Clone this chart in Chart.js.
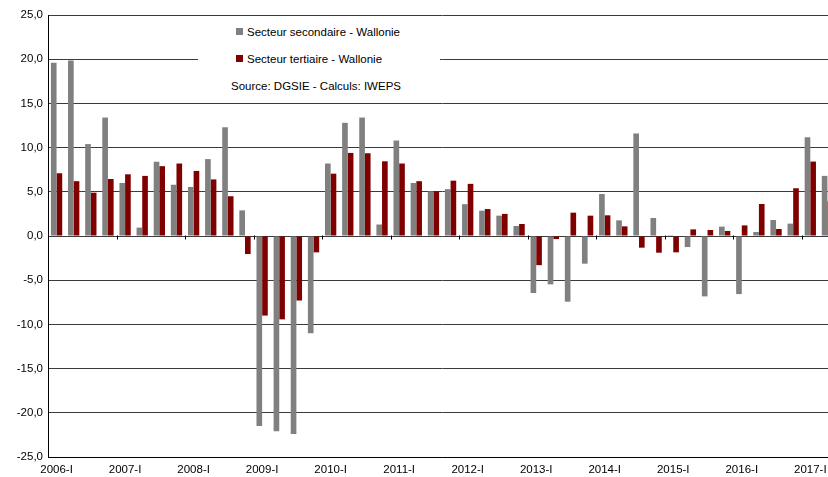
<!DOCTYPE html>
<html>
<head>
<meta charset="utf-8">
<script src="https://cdn.jsdelivr.net/npm/chart.js@4"></script>
<style>
  html, body { margin: 0; padding: 0; background: #fff; overflow: hidden; }
  #wrap { position: absolute; left: 0; top: 0; width: 836px; height: 477px; }
  #legende { position: absolute; left: 198px; top: 21px; width: 242px; height: 77px; background: #fff;
    font-family: "Liberation Sans", Arial, sans-serif; font-size: 11.5px; color: #000; }
  .item { position: absolute; left: 38px; height: 14px; line-height: 14px; white-space: nowrap; }
  .item i { display: inline-block; width: 7px; height: 7px; margin-right: 4px; vertical-align: 1px; }
  .source { position: absolute; left: 33px; top: 58px; white-space: nowrap; line-height: 14px; }
</style>
</head>
<body>
<div id="wrap"><canvas id="chart"></canvas></div>
<div id="legende"></div>
<script>
const annees = [2006, 2007, 2008, 2009, 2010, 2011, 2012, 2013, 2014, 2015, 2016, 2017];
const trimestres = ['I', 'II', 'III', 'IV'];
const labels = annees.flatMap(a => trimestres.map(t => a + '-' + t)).slice(0, 46);

const secondaire = [
  19.6, 19.85, 10.4, 13.4,
  6.0, 0.95, 8.4, 5.8,
  5.55, 8.7, 12.3, 2.9,
  -21.5, -22.1, -22.4, -11.0,
  8.2, 12.8, 13.4, 1.3,
  10.8, 6.0, 5.05, 5.3,
  3.6, 2.87, 2.3, 1.13,
  -6.45, -5.47, -7.43, -3.13,
  4.75, 1.77, 11.6, 2.04,
  0.1, -1.25, -6.83, 1.06,
  -6.57, 0.45, 1.81, 1.4,
  11.17, 6.8
];
const tertiaire = [
  7.1, 6.2, 4.9, 6.45,
  6.98, 6.8, 7.9, 8.2,
  7.36, 6.4, 4.5, -2.04,
  -9.0, -9.43, -7.3, -1.85,
  7.05, 9.4, 9.36, 8.45,
  8.2, 6.2, 5.05, 6.26,
  5.9, 3.05, 2.5, 1.36,
  -3.3, -0.35, 2.64, 2.3,
  2.34, 1.09, -1.32, -1.89,
  -1.85, 0.75, 0.68, 0.57,
  1.2, 3.62, 0.79, 5.4,
  8.42, 3.89
];
const yTicks = [-25, -20, -15, -10, -5, 0, 5, 10, 15, 20, 25];
const source = 'Source: DGSIE - Calculs: IWEPS';

const police = '"Liberation Sans", Arial, sans-serif';

// petites marques sur l'axe zéro, une par année
const marquesZero = {
  id: 'marquesZero',
  afterDatasetsDraw(chart) {
    const x = chart.scales.x, y = chart.scales.y, ctx = chart.ctx;
    const y0 = Math.round(y.getPixelForValue(0)) + 0.5;
    ctx.save();
    ctx.strokeStyle = '#000';
    ctx.lineWidth = 1;
    for (let i = 4; i < labels.length; i += 4) {
      const px = Math.round((x.getPixelForValue(i) + x.getPixelForValue(i - 1)) / 2) + 0.5;
      ctx.beginPath();
      ctx.moveTo(px, y0 - 1);
      ctx.lineTo(px, y0 + 3);
      ctx.stroke();
    }
    ctx.restore();
  }
};

const chart = new Chart(document.getElementById('chart'), {
  type: 'bar',
  data: {
    labels,
    datasets: [
      { label: 'Secteur secondaire - Wallonie', data: secondaire, backgroundColor: '#808080' },
      { label: 'Secteur tertiaire - Wallonie', data: tertiaire, backgroundColor: '#800000' }
    ]
  },
  options: {
    responsive: true,
    maintainAspectRatio: false,
    animation: false,
    layout: { padding: { top: 15, right: 0, left: 0, bottom: 0 } },
    datasets: { bar: { categoryPercentage: 0.66, barPercentage: 1.0 } },
    plugins: { legend: { display: false }, tooltip: { enabled: false } },
    scales: {
      x: {
        grid: { display: false, drawTicks: false },
        border: { display: true, color: '#000', width: 1 },
        ticks: {
          autoSkip: false, maxRotation: 0, padding: 6,
          color: '#000', font: { family: police, size: 11.5 },
          callback: (v, i) => i % 4 === 0 ? labels[i] : ''
        },
        afterFit: s => { s.height = 20; }
      },
      y: {
        min: -25, max: 25,
        afterBuildTicks: s => { s.ticks = yTicks.map(v => ({ value: v })); },
        grid: { color: '#3a3a3a', lineWidth: 1, drawTicks: false },
        border: { display: true, color: '#000', width: 1 },
        ticks: {
          padding: 5, color: '#000', font: { family: police, size: 11.5 },
          callback: v => v.toFixed(1).replace('.', ',')
        },
        afterFit: s => { s.width = 48; }
      }
    }
  },
  plugins: [marquesZero]
});

// légende maison, construite depuis les séries
const leg = document.getElementById('legende');
chart.data.datasets.forEach((ds, k) => {
  const d = document.createElement('div');
  d.className = 'item';
  d.style.top = (4 + k * 27) + 'px';
  d.innerHTML = '<i style="background:' + ds.backgroundColor + '"></i>' + ds.label;
  leg.appendChild(d);
});
const s = document.createElement('div');
s.className = 'source';
s.textContent = source;
leg.appendChild(s);
</script>
</body>
</html>
